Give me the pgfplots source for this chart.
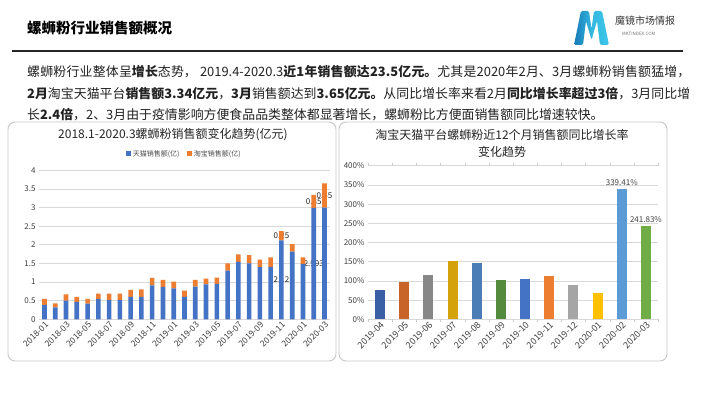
\documentclass[border=0pt]{standalone}
\usepackage{fontspec}
\setmainfont{Noto Sans CJK SC}
\usepackage{pgfplots}
\pgfplotsset{compat=1.18}
\definecolor{tmblue}{HTML}{4472C4}
\definecolor{tborange}{HTML}{ED7D31}
\definecolor{c1}{HTML}{3A5FA5}
\definecolor{c2}{HTML}{C8632A}
\definecolor{c3}{HTML}{878787}
\definecolor{c4}{HTML}{D4A20B}
\definecolor{c5}{HTML}{4A7DB5}
\definecolor{c6}{HTML}{558B3C}
\definecolor{c7}{HTML}{4472C4}
\definecolor{c8}{HTML}{ED7D31}
\definecolor{c9}{HTML}{A5A5A5}
\definecolor{c10}{HTML}{FFC000}
\definecolor{c11}{HTML}{5B9BD5}
\definecolor{c12}{HTML}{70AD47}
\definecolor{logoA}{HTML}{1579B6}
\definecolor{logoB}{HTML}{3DC7EA}
\definecolor{txt}{HTML}{222222}
\newcommand\fs[1]{\fontsize{#1}{#1}\selectfont}
\XeTeXlinebreaklocale "zh"
\XeTeXlinebreakskip=0pt plus 1pt minus 0.15pt
\newcommand\jline[1]{\parbox{663pt}{\parindent=0pt\parfillskip=0pt\fs{12.9}#1}}
\pgfplotsset{myb/.style={fill=#1, draw=none, bar shift=0pt}}
\begin{document}
\begin{tikzpicture}[x=1pt,y=1pt]
\path[fill=white,use as bounding box] (0,0) rectangle (710,399);
% header
\node[anchor=west,inner sep=0pt,text=black] at (27,371) {\fs{14.5}\bfseries 螺蛳粉行业销售额概况};
\draw[line width=1.3pt, black!85] (12,348) -- (683,348);
% logo
\shade[left color=logoA, right color=logoB, middle color=logoB!80!logoA, rounded corners=1.5pt]
 (574,354) -- (581,388) -- (589,388) -- (591.5,370) -- (594,388) -- (602,388) -- (609,354) -- (600,354) -- (597,378) -- (591.5,359) -- (586,378) -- (583,354) -- cycle;
\node[anchor=west,inner sep=0pt,text=black!80] at (615,378) {\fs{10}魔镜市场情报};
\node[anchor=west,inner sep=0pt,text=black!55] at (622,365) {\fs{4.5}MKTINDEX.COM};
% paragraph
\node[anchor=west,inner sep=0pt,text=txt] at (27,327.5) {\jline{螺蛳粉行业整体呈\textbf{增长}态势， 2019.4-2020.3\textbf{近1年销售额达23.5亿元。}尤其是2020年2月、3月螺蛳粉销售额猛增，}};
\node[anchor=west,inner sep=0pt,text=txt] at (27,305) {\jline{\textbf{2月}淘宝天猫平台\textbf{销售额3.34亿元}，\textbf{3月}销售额达到\textbf{3.65亿元。}从同比增长率来看2月\textbf{同比增长率超过3倍}，3月同比增}};
\node[anchor=west,inner sep=0pt,text=txt] at (27,284) {\fs{12.9}长\textbf{2.4倍}，2、3月由于疫情影响方便食品品类整体都显著增长，螺蛳粉比方便面销售额同比增速较快。};
% boxes
\draw[black!22, line width=0.9pt, rounded corners=7pt] (8,38) rectangle (336,277);
\draw[black!22, line width=0.9pt, rounded corners=7pt] (339,38) rectangle (667,277);
% left chart
\node[text=black!85] at (173,264) {\fs{12}2018.1-2020.3螺蛳粉销售额变化趋势(亿元)};
\begin{axis}[at={(39.1pt,79.7pt)}, anchor=south west, scale only axis,
  width=290.8pt, height=149pt,
  xmin=-0.5, xmax=26.5, ymin=0, ymax=4,
  ybar stacked, bar width=4.6pt,
  ytick={0,0.5,...,4},
  ymajorgrids, grid style={draw=black!15, line width=0.6pt},
  axis line style={draw=none}, major tick length=0pt,
  xtick={0,2,...,26},
  xticklabels={2018-01,2018-03,2018-05,2018-07,2018-09,2018-11,2019-01,2019-03,2019-05,2019-07,2019-09,2019-11,2020-01,2020-03},
  x tick label style={rotate=45, anchor=north east, font=\fs{8.5}, text=black!75, inner sep=1pt},
  y tick label style={font=\fs{8}, text=black!75},
  /pgf/number format/assume math mode=true,
  legend style={at={(0.5,1.11)}, anchor=center, draw=none, fill=none, font=\fs{7}, text=black!70, legend columns=2, /tikz/every even column/.append style={column sep=6pt}, inner sep=0pt},
  legend image code/.code={\fill[#1] (0pt,-2pt) rectangle (4.5pt,2.5pt);},
  clip=false]
\addplot[fill=tmblue, draw=none] coordinates {
(0,0.39)(1,0.32)(2,0.50)(3,0.47)(4,0.42)(5,0.55)(6,0.52)(7,0.52)(8,0.60)(9,0.60)(10,0.91)(11,0.87)(12,0.83)(13,0.60)(14,0.88)(15,0.94)(16,0.95)(17,1.31)(18,1.54)(19,1.50)(20,1.40)(21,1.41)(22,2.12)(23,1.82)(24,1.49)(25,2.993)(26,3.00)};
\addplot[fill=tborange, draw=none] coordinates {
(0,0.16)(1,0.11)(2,0.17)(3,0.13)(4,0.13)(5,0.14)(6,0.17)(7,0.17)(8,0.19)(9,0.20)(10,0.20)(11,0.19)(12,0.18)(13,0.17)(14,0.18)(15,0.15)(16,0.17)(17,0.19)(18,0.20)(19,0.22)(20,0.20)(21,0.25)(22,0.25)(23,0.20)(24,0.17)(25,0.35)(26,0.65)};
\legend{天猫销售额(亿),淘宝销售额(亿)}
\node[font=\fs{8}, text=black!85] at (axis cs:22,1.07) {2.12};
\node[font=\fs{8}, text=black!85] at (axis cs:22,2.245) {0.25};
\node[font=\fs{8}, text=black!85] at (axis cs:25,1.5) {2.993};
\node[font=\fs{8}, text=black!85] at (axis cs:25,3.17) {0.35};
\node[font=\fs{8}, text=black!85] at (axis cs:26,3.33) {0.65};
\end{axis}
% right chart
\node[text=black!85] at (502,264) {\fs{12}淘宝天猫平台螺蛳粉近12个月销售额同比增长率};
\node[text=black!85] at (502,247) {\fs{12}变化趋势};
\begin{axis}[at={(368pt,79.7pt)}, anchor=south west, scale only axis,
  width=290pt, height=153.6pt,
  xmin=-0.5, xmax=11.5, ymin=0, ymax=400,
  ybar, bar width=10pt,
  ytick={0,50,...,400},
  yticklabel={\pgfmathprintnumber{\tick}\%},
  ymajorgrids, grid style={draw=black!15, line width=0.6pt},
  axis line style={draw=none}, major tick length=0pt,
  xtick={0,...,11},
  minor xtick={-0.5,0.5,...,11.5}, minor tick length=3pt, tick align=outside,
  minor tick style={draw=black!20},
  xticklabels={2019-04,2019-05,2019-06,2019-07,2019-08,2019-09,2019-10,2019-11,2019-12,2020-01,2020-02,2020-03},
  x tick label style={rotate=45, anchor=north east, font=\fs{9}, text=black!75, inner sep=1pt},
  y tick label style={font=\fs{8}, text=black!75},
  /pgf/number format/assume math mode=true,
  clip=false]
\addplot[myb=c1] coordinates {(0,76.5)};
\addplot[myb=c2] coordinates {(1,98)};
\addplot[myb=c3] coordinates {(2,116.5)};
\addplot[myb=c4] coordinates {(3,152)};
\addplot[myb=c5] coordinates {(4,146)};
\addplot[myb=c6] coordinates {(5,102.6)};
\addplot[myb=c7] coordinates {(6,105)};
\addplot[myb=c8] coordinates {(7,114)};
\addplot[myb=c9] coordinates {(8,90.4)};
\addplot[myb=c10] coordinates {(9,67.8)};
\addplot[myb=c11, nodes near coords={339.41\%}, nodes near coords style={font=\fs{8}, text=black!75}] coordinates {(10,339.41)};
\addplot[myb=c12, nodes near coords={241.83\%}, nodes near coords style={font=\fs{8}, text=black!75}] coordinates {(11,241.83)};
\end{axis}
\end{tikzpicture}
\end{document}
